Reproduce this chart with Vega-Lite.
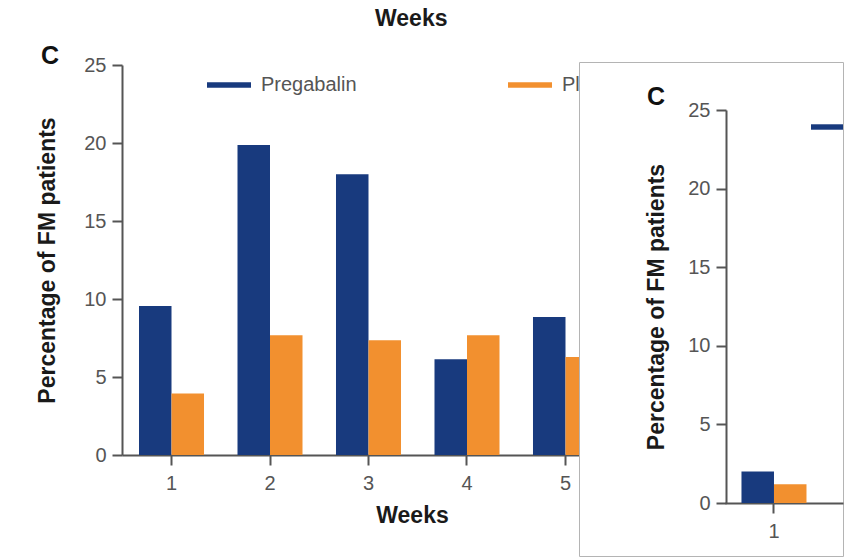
{
  "$schema": "https://vega.github.io/schema/vega-lite/v6.json",
  "autosize": {"type": "pad"},
  "padding": {"left": 36, "top": 8, "right": 0, "bottom": 0},
  "background": "white",
  "title": {"text": "Weeks", "anchor": "start", "dx": 339, "offset": -5, "baseline": "alphabetic", "fontSize": 23, "fontWeight": "bold", "font": "Liberation Sans", "color": "#1a1a1a"},
  "config": {
    "view": {"stroke": null},
    "font": "Liberation Sans",
    "axis": {"grid": false, "labelFont": "Liberation Sans", "titleFont": "Liberation Sans", "labelFontSize": 20, "labelColor": "#555555", "titleFontSize": 23, "titleFontWeight": "bold", "titleColor": "#1a1a1a", "domainColor": "#555555", "domainWidth": 2, "tickColor": "#555555", "tickWidth": 2, "tickSize": 10},
    "legend": {"labelFont": "Liberation Sans", "labelFontSize": 20, "labelColor": "#555555", "padding": 0}
  },
  "spacing": 0,
  "bounds": "flush",
  "resolve": {"scale": {"color": "independent", "x": "independent", "y": "independent", "xOffset": "independent"}, "legend": {"color": "independent"}},
  "hconcat": [
    {
      "width": 457,
      "height": 393,
      "title": {"text": "C", "anchor": "start", "frame": "group", "dx": -81, "dy": 10, "offset": -24, "baseline": "alphabetic", "fontSize": 25, "fontWeight": "bold", "color": "#111111", "font": "Liberation Sans"},
      "data": {"values": [
        {"week": 1, "group": "Pregabalin", "value": 9.55},
        {"week": 1, "group": "Placebo", "value": 3.95},
        {"week": 2, "group": "Pregabalin", "value": 19.87},
        {"week": 2, "group": "Placebo", "value": 7.67},
        {"week": 3, "group": "Pregabalin", "value": 18.0},
        {"week": 3, "group": "Placebo", "value": 7.35},
        {"week": 4, "group": "Pregabalin", "value": 6.13},
        {"week": 4, "group": "Placebo", "value": 7.67},
        {"week": 5, "group": "Pregabalin", "value": 8.84},
        {"week": 5, "group": "Placebo", "value": 6.28}
      ]},
      "mark": {"type": "bar"},
      "encoding": {
        "x": {"field": "week", "type": "ordinal",
          "scale": {"domain": [1, 2, 3, 4, 5], "range": [0, 493], "paddingInner": 0.34, "paddingOuter": 0.1726},
          "axis": {"title": "Weeks", "labelAngle": 0, "labelPadding": 8, "titleX": 290, "titleY": 67, "titleBaseline": "alphabetic"}},
        "xOffset": {"field": "group", "scale": {"domain": ["Pregabalin", "Placebo"]}},
        "y": {"field": "value", "type": "quantitative",
          "scale": {"domain": [0, 25], "range": [393, 3]},
          "axis": {"title": "Percentage of FM patients", "values": [0, 5, 10, 15, 20, 25], "labelPadding": 6, "titleX": -75, "titleBaseline": "middle"}},
        "color": {"field": "group", "type": "nominal",
          "scale": {"domain": ["Pregabalin", "Placebo"], "range": ["#183a7e", "#f2902f"]},
          "legend": {"orient": "none", "legendX": 85, "legendY": 1, "direction": "horizontal", "title": null, "symbolType": "M-1,-0.12H1V0.12H-1Z", "symbolSize": 1936, "symbolStrokeWidth": 0, "labelOffset": 10, "columnPadding": 151}}
      }
    },
    {
      "width": 264,
      "height": 494,
      "view": {"stroke": "#b4b4b4", "strokeWidth": 1, "fill": "white"},
      "title": {"text": "C", "anchor": "start", "frame": "group", "dx": 68, "dy": 43, "offset": -25, "baseline": "alphabetic", "fontSize": 25, "fontWeight": "bold", "color": "#111111", "font": "Liberation Sans"},
      "data": {"values": [
        {"week": 1, "group": "Pregabalin", "value": 2.0},
        {"week": 1, "group": "Placebo", "value": 1.2}
      ]},
      "mark": {"type": "bar"},
      "encoding": {
        "x": {"field": "week", "type": "ordinal",
          "scale": {"domain": [1], "range": [146, 264], "paddingInner": 0.34, "paddingOuter": 0.269, "align": 0.311},
          "axis": {"title": null, "orient": "bottom", "offset": -53, "labelAngle": 0, "labelPadding": 8}},
        "xOffset": {"field": "group", "scale": {"domain": ["Pregabalin", "Placebo"]}},
        "y": {"field": "value", "type": "quantitative",
          "scale": {"domain": [0, 25], "range": [441, 48]},
          "axis": {"title": "Percentage of FM patients", "orient": "left", "offset": -147, "values": [0, 5, 10, 15, 20, 25], "labelPadding": 6, "titleX": -70, "titleBaseline": "middle"}},
        "color": {"field": "group", "type": "nominal",
          "scale": {"domain": ["Pregabalin", "Placebo"], "range": ["#183a7e", "#f2902f"]},
          "legend": {"orient": "none", "legendX": 232, "legendY": 49, "direction": "horizontal", "title": null, "values": ["Pregabalin"], "symbolType": "M-1,-0.17H1V0.17H-1Z", "symbolSize": 1024, "symbolStrokeWidth": 0, "labelOffset": 0, "labelExpr": "''"}}
      }
    }
  ]
}
